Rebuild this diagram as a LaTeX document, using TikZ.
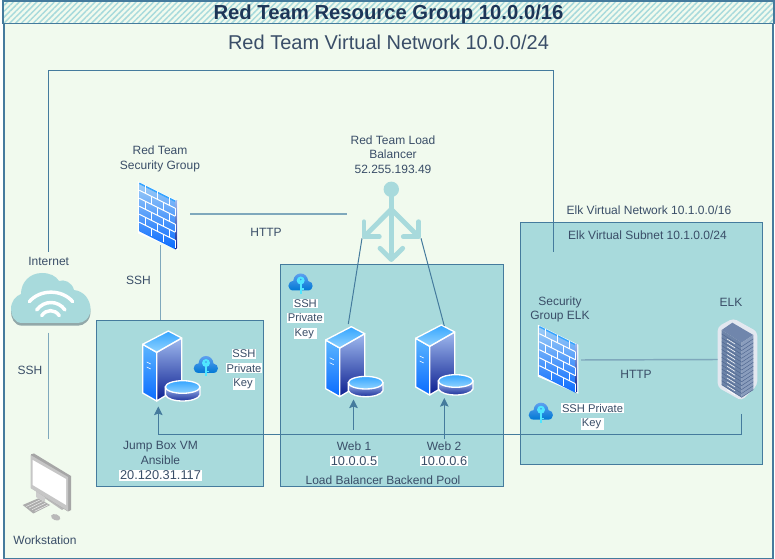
\documentclass[tikz,border=0pt]{standalone}
\usepackage{fontspec}
\setmainfont{Liberation Sans}
\usetikzlibrary{arrows.meta,patterns.meta}

\definecolor{groupbg}{HTML}{F1FAEE}
\definecolor{boxteal}{HTML}{A8DADC}
\definecolor{linkblue}{HTML}{457B9D}
\definecolor{softlink}{HTML}{7FA8BC}
\definecolor{inkblue}{HTML}{1D3557}
\definecolor{labelink}{HTML}{3A4E68}
\definecolor{skyface}{HTML}{5CB6FF}
\definecolor{brightface}{HTML}{0A6BFF}
\definecolor{paleface}{HTML}{9FB9EE}
\definecolor{deepface}{HTML}{0B1E90}
\definecolor{topdeep}{HTML}{35A5FF}
\definecolor{toppale}{HTML}{90D3FF}
\definecolor{wallpale}{HTML}{A0CEF6}
\definecolor{keycloudtop}{HTML}{5EA0EF}
\definecolor{keycloudlow}{HTML}{0078D4}
\definecolor{keycyan}{HTML}{50E6FF}
\definecolor{rackhalo}{HTML}{E3E8F0}
\definecolor{racktop}{HTML}{7086AC}
\definecolor{rackfront}{HTML}{6D84A8}
\definecolor{rackside}{HTML}{8A9DBD}
\definecolor{rackslot}{HTML}{4F6690}

\newcommand{\whitetxt}[1]{{\setlength{\fboxsep}{0.6pt}\colorbox{white}{#1}}}

\tikzset{
  boxarea/.style={draw=linkblue,fill=boxteal,line width=0.8pt},
  linkline/.style={draw=linkblue,line width=0.75pt},
  softline/.style={draw=softlink,line width=1.1pt},
  linkarrow/.style={linkline,-{Stealth[length=6.5pt,width=6.5pt,inset=1.2pt]}},
  lbl/.style={inner sep=0pt,align=center,text=labelink,font=\fontsize{9}{10.7}\selectfont},
  keylbl/.style={inner sep=0pt,align=center,text=labelink,font=\fontsize{8.4}{10.7}\selectfont},
  iplbl/.style={inner sep=0pt,align=center,text=labelink,font=\fontsize{9.6}{11}\selectfont},
  balancerline/.style={draw=boxteal,line width=3.6pt,line cap=round,line join=round},
  servericon/.pic={
    \begin{scope}[yscale=-1]
    \path [top color=skyface,bottom color=brightface,draw=white,line width=1pt,line join=round]
      (0,13.3) -- (14,21.3) -- (14,70) -- (0,62) -- cycle;
    \path [top color=paleface,bottom color=deepface,draw=white,line width=1pt,line join=round]
      (14,21.3) -- (39,7) -- (39,55) -- (14,70) -- cycle;
    \path [top color=topdeep,bottom color=toppale,draw=white,line width=1pt,line join=round]
      (25.6,0) -- (39,7) -- (14,21.3) -- (0,13.3) -- cycle;
    \foreach \v in {31,36} \draw [white,line width=0.45pt] (4,\v) -- (8,{\v+2});
    \path [top color=paleface,bottom color=deepface,draw=white,line width=1pt]
      (22.7,56) -- (22.7,64) .. controls (26,72) and (54,72) .. (57.3,64) -- (57.3,56) -- cycle;
    \path [top color=topdeep,bottom color=toppale,draw=white,line width=1pt]
      (40,56) ellipse [x radius=17.3,y radius=6.3];
    \end{scope}
  },
  firewallicon/.pic={
    \begin{scope}[yscale=-1]
    \fill [white] (-1.5,-2) -- (39,18) -- (39,67) -- (-1.5,50) -- cycle;
    \path [top color=wallpale,bottom color=brightface] (0,0) -- (36,18) -- (36,66) -- (0,48) -- cycle;
    \draw [topdeep,line width=1.1pt] (0,0) -- (36,18);
    \path [top color=paleface,bottom color=deepface] (36,17.5) -- (37.8,16.8) -- (37.8,65) -- (36,66) -- cycle;
    \foreach \k in {1,...,5} {
      \draw [white,line width=0.75pt] (0,{8*\k-1}) -- (36,{8*\k+17});
    }
    \foreach \k/\off in {0/6,1/12,2/6,3/12,4/6,5/12} {
      \foreach \u in {0,12,24} {
        \draw [white,line width=0.75pt] ({\u+\off},{8*\k-1+0.5*(\u+\off)}) -- ({\u+\off},{8*\k+7+0.5*(\u+\off)});
      }
    }
    \end{scope}
  },
  keyicon/.pic={
    \begin{scope}[yscale=-1]
    \path [top color=keycloudtop,bottom color=keycloudlow]
      (-7,7) .. controls (-14,7) and (-14,-2) .. (-7.5,-2.5)
      .. controls (-7,-8) and (-3,-10) .. (0,-10)
      .. controls (4,-10) and (7,-7) .. (7.5,-2.5)
      .. controls (13.5,-2) and (13.5,7) .. (7,7) -- cycle;
    \fill [keycyan,even odd rule] (0,-3) circle [radius=4] (0,-4) circle [radius=1.1];
    \fill [keycyan] (-1.1,0) rectangle (1.1,10.5);
    \fill [keycyan] (1,5) rectangle (3,6.4);
    \end{scope}
  }
}

\begin{document}
\begin{tikzpicture}[x=0.75pt,y=0.75pt,yscale=-1,xscale=1]
  \useasboundingbox (0,0) rectangle (775,559);
  \fill [white] (0,0) rectangle (775,559);

  %Shape: Resource group frame
  \node [draw=linkblue,fill=groupbg,line width=1.1pt,minimum width=577pt,minimum height=418.5pt,inner sep=0pt] (groupframe) at (388.5,279.5) {};
  \path [fill=groupbg] (3,1) rectangle (774,23.7);
  \path [pattern={Lines[angle=45,distance=3.1pt,line width=1.1pt]},pattern color=boxteal] (3,1) rectangle (774,23.7);
  \draw [draw=linkblue,line width=1.1pt] (3,1) rectangle (774,23.7);

  %Shape: Boxes
  \node [boxarea,minimum width=124.8pt,minimum height=125pt,inner sep=0pt] (jumpbox) at (180,403.5) {};
  \node [boxarea,minimum width=167pt,minimum height=166.8pt,inner sep=0pt] (poolbox) at (391.7,375.5) {};
  \node [boxarea,minimum width=181.8pt,minimum height=181.2pt,inner sep=0pt] (elkbox) at (641.5,343.5) {};

  %Coordinates for the connector ends
  \coordinate (nettop) at (48.3,252);
  \coordinate (netcorner) at (48.3,71);
  \coordinate (elkcorner) at (553,71);
  \coordinate (elkend) at (553,252);
  \coordinate (cloudbottom) at (48.3,332.7);
  \coordinate (workstationtop) at (48.3,439.5);
  \coordinate (firewallbottom) at (160.7,245);
  \coordinate (firewallright) at (190,214);
  \coordinate (balancerleft) at (346.7,214);
  \coordinate (balancerlow) at (362,238.3);
  \coordinate (balancerhigh) at (421,238.3);
  \coordinate (webonetop) at (348.3,324);
  \coordinate (webtwotop) at (444.3,326);
  \coordinate (webonelow) at (353.5,430);
  \coordinate (webonetip) at (353.5,399.5);
  \coordinate (webtwolow) at (444.3,439.5);
  \coordinate (webtwotip) at (444.3,398);
  \coordinate (elkrack) at (741.7,414);
  \coordinate (buscorner) at (741.7,434.3);
  \coordinate (jumpcorner) at (158.3,434.3);
  \coordinate (jumptip) at (158.3,406.5);
  \coordinate (elkwall) at (581,360);
  \coordinate (rackleft) at (717.7,359.5);

  %Shape: Internet cloud
  \path [fill=gray!55!boxteal,yshift=2pt] (22,323) .. controls (14,323) and (11,315) .. (11,309) .. controls (11,301) and (16,296) .. (21,294) .. controls (21,282) and (30,273) .. (42,273) .. controls (50,273) and (56,276) .. (59,281) .. controls (64,279) and (72,282) .. (74,290) .. controls (84,291) and (90.5,300) .. (90.5,309) .. controls (90.5,318) and (84,323) .. (78,323) -- cycle;
  \path [fill=boxteal] (22,323) .. controls (14,323) and (11,315) .. (11,309) .. controls (11,301) and (16,296) .. (21,294) .. controls (21,282) and (30,273) .. (42,273) .. controls (50,273) and (56,276) .. (59,281) .. controls (64,279) and (72,282) .. (74,290) .. controls (84,291) and (90.5,300) .. (90.5,309) .. controls (90.5,318) and (84,323) .. (78,323) -- cycle;
  \draw [white,line width=2.6pt,line cap=round] (29.3,301.7) .. controls (40,289) and (62,289) .. (72.7,301.7);
  \draw [white,line width=2.6pt,line cap=round] (36.7,310) .. controls (44,300) and (58,300) .. (65,310);
  \draw [white,line width=2.6pt,line cap=round] (41.7,315.7) .. controls (46,309) and (55,309) .. (59.3,315.7);

  %Shape: Workstation
  \path [fill=gray!65] (22.7,505) -- (38.3,498.3) -- (50,505) -- (33.3,513.5) -- cycle;
  \foreach \k in {1,2,3,4} \draw [white!85!gray,line width=0.4pt] ({23.5+2.8*\k},{505.5+1.6*\k-0.6}) -- ({37+2.8*\k},{499+1.6*\k-0.6});
  \fill [gray!55] (43,497) -- (47,494) -- (65,504) -- (65,508) -- (62,510) -- cycle;
  \fill [gray!40] (36,490) -- (45,495) -- (45,502) -- (36,497) -- cycle;
  \fill [gray!70] (31,454.3) -- (34,453.5) -- (71,476) -- (71,510) -- (68,511.5) -- (31,488) -- cycle;
  \fill [gray!45] (30.5,455) -- (68,477) -- (68,511) -- (30.5,488) -- cycle;
  \fill [white] (32.7,460) -- (66,479) -- (66,505) -- (32.7,485) -- cycle;
  \fill [gray!55,rotate around={20:(55.7,517.3)}] (55.7,517.3) ellipse [x radius=4.8,y radius=3];

  %Shape: Security group firewalls
  \pic at (139.3,183.3) {firewallicon};
  \pic at (539.3,326.7) {firewallicon};

  %Shape: Load balancer
  \fill [boxteal] (391.3,189.3) circle [radius=7.7];
  \draw [balancerline] (391.3,192) -- (391.3,259);
  \draw [balancerline] (380,248.3) -- (391.3,259.5) -- (402.7,248.3);
  \draw [balancerline] (391.3,209.3) -- (364.5,236.2);
  \draw [balancerline] (364,221.7) -- (364,236.7) -- (379.3,236.7);
  \draw [balancerline] (391.3,209.3) -- (418.2,236.2);
  \draw [balancerline] (418.7,221.7) -- (418.7,236.7) -- (403.3,236.7);

  %Shape: Servers
  \pic at (142.7,331) {servericon};
  \pic at (325.7,326.7) {servericon};
  \pic at (415.7,325) {servericon};

  %Shape: Key clouds
  \pic at (206,366) {keyicon};
  \pic at (300.7,283.5) {keyicon};
  \pic at (541,412.7) {keyicon};

  %Shape: ELK rack
  \path [fill=rackhalo,rounded corners=3pt] (733.3,318.3) -- (757.3,331.7) -- (757.3,385) -- (741.7,400.7) -- (717.7,387.3) -- (717.7,326.7) -- cycle;
  \fill [racktop] (732.3,322.7) -- (753.3,335) -- (741.7,342.7) -- (721.7,330) -- cycle;
  \fill [rackfront] (721.7,330) -- (741.7,342.7) -- (741.7,397.3) -- (721.7,385) -- cycle;
  \fill [rackside] (741.7,342.7) -- (753.3,335) -- (753.3,390) -- (741.7,397.3) -- cycle;
  \foreach \k in {0,...,13} {
    \draw [rackslot,line width=0.35pt] (721.7,{333.9+3.9*\k}) -- (741.7,{346.6+3.9*\k}) -- (753.3,{338.9+3.9*\k});
    \draw [white,line width=0.4pt] (727,{339+3.9*\k}) -- (735,{344+3.9*\k});
  }

  %Straight Lines
  \draw [linkline] (nettop) -- (netcorner) -- (elkcorner) -- (elkend);
  \draw [softline] (cloudbottom) -- (workstationtop);
  \draw [softline] (firewallbottom) -- (firewallbottom |- jumpbox.north);
  \draw [softline] (firewallright) -- (balancerleft);
  \draw [linkline] (balancerlow) -- (webonetop);
  \draw [linkline] (balancerhigh) -- (webtwotop);
  \draw [linkarrow] (webonelow) -- (webonetip);
  \draw [linkarrow] (webtwolow) -- (webtwotip);
  \draw [linkarrow] (elkrack) -- (buscorner) -- (jumpcorner) -- (jumptip);
  \draw [softline] (elkwall) -- (rackleft);

  % Text Node
  \draw (388.5,14) node [inner sep=0pt,text=inkblue,font=\fontsize{15.2}{18}\selectfont\bfseries] (grouptitle) {Red Team Resource Group 10.0.0/16};
  % Text Node
  \draw (388.5,42.5) node [inner sep=0pt,text=labelink,font=\fontsize{15}{18}\selectfont] (nettitle) {Red Team Virtual Network 10.0.0/24};
  % Text Node
  \draw (160,159) node [lbl] (grouplbl) {Red Team\\Security Group};
  % Text Node
  \draw (393,154.5) node [lbl] (balancerlbl) {Red Team Load\\Balancer\\52.255.193.49};
  % Text Node
  \draw (48.7,261.7) node [lbl] (internetlbl) {Internet};
  % Text Node
  \draw (138.5,280.7) node [lbl] (sshjumplbl) {SSH};
  % Text Node
  \draw (266,232.5) node [lbl] (httplbl) {HTTP};
  % Text Node
  \draw (30,370.5) node [lbl] (sshnetlbl) {SSH};
  % Text Node
  \draw (45,540.5) node [lbl] (workstationlbl) {Workstation};
  % Text Node
  \draw (160.5,453) node [lbl] (jumplbl) {Jump Box VM\\Ansible};
  % Text Node
  \draw (160.5,475.5) node [iplbl] (jumpiplbl) {\whitetxt{20.120.31.117}};
  % Text Node
  \draw (244,369.5) node [keylbl] (jumpkeylbl) {\whitetxt{SSH}\\\whitetxt{Private}\\\whitetxt{Key\,}};
  % Text Node
  \draw (305.3,319) node [keylbl] (poolkeylbl) {\whitetxt{SSH}\\\whitetxt{Private}\\\whitetxt{Key\,}};
  % Text Node
  \draw (354,446) node [lbl] (webonelbl) {Web 1};
  % Text Node
  \draw (354,461) node [iplbl] (weboneiplbl) {\whitetxt{10.0.0.5}};
  % Text Node
  \draw (444,446) node [lbl] (webtwolbl) {Web 2};
  % Text Node
  \draw (444,461) node [iplbl] (webtwoiplbl) {\whitetxt{10.0.0.6}};
  % Text Node
  \draw (383,480.7) node [lbl] (poollbl) {Load Balancer Backend Pool};
  % Text Node
  \draw (649,210.7) node [lbl] (elknetlbl) {Elk Virtual Network 10.1.0.0/16};
  % Text Node
  \draw (647.5,235.7) node [lbl] (elksublbl) {Elk Virtual Subnet 10.1.0.0/24};
  % Text Node
  \draw (560,309.2) node [lbl] (elkgrouplbl) {Security\\Group ELK};
  % Text Node
  \draw (731,302.7) node [lbl] (elklbl) {ELK};
  % Text Node
  \draw (636,374.5) node [lbl] (elkhttplbl) {HTTP};
  % Text Node
  \draw (592.5,416.5) node [keylbl] (elkkeylbl) {\whitetxt{SSH Private}\\\whitetxt{Key\,}};
\end{tikzpicture}
\end{document}
